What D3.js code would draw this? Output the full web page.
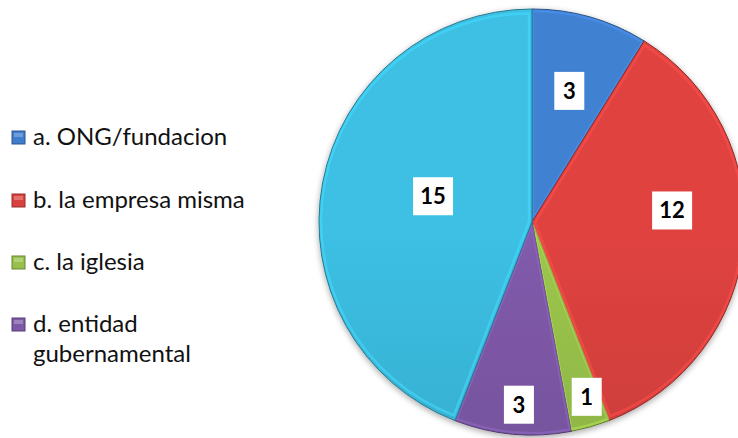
<!DOCTYPE html>
<html>
<head>
<meta charset="utf-8">
<script src="https://cdn.jsdelivr.net/npm/d3@7"></script>
<style>
  body { margin: 0; background: #fff; }
  svg { display: block; font-family: Lato, "Open Sans", sans-serif; }
</style>
</head>
<body>
<div id="chart"></div>
<script>
// data
const categories = ["a. ONG/fundacion", "b. la empresa misma", "c. la iglesia", "d. entidad gubernamental", "e. otro"];
const values = [3, 12, 1, 3, 15];
const legendLines = [["a. ONG/fundacion"], ["b. la empresa misma"], ["c. la iglesia"], ["d. entidad", "gubernamental"]];
const colors = ["#3f7ccb", "#d8413e", "#97c04a", "#7c58a6", "#3ab9dc"];

// layout
const width = 738, height = 438;
const cx = 532, cy = 222, R = 213;
// label distance (fraction of radius) and angle nudge in degrees, excel "best fit" look
const labelR = [0.64, 0.66, 0.86, 0.86, 0.48];
const labelNudge = [0, -10, -1.5, -1.2, 4];

const svg = d3.select("#chart").append("svg")
    .attr("width", width)
    .attr("height", height);

const defs = svg.append("defs");

colors.forEach(function(c, i) {
    let g = defs.append("linearGradient")
        .attr("id", "grad" + i)
        .attr("gradientUnits", "userSpaceOnUse")
        .attr("x1", 0).attr("y1", cy - R)
        .attr("x2", 0).attr("y2", cy + R);
    g.append("stop").attr("offset", "0%").attr("stop-color", d3.color(c).brighter(0.1));
    g.append("stop").attr("offset", "100%").attr("stop-color", d3.color(c).darker(0.4));
});

let shadow = defs.append("filter").attr("id", "shadow")
    .attr("x", "-10%").attr("y", "-10%").attr("width", "120%").attr("height", "120%");
shadow.append("feGaussianBlur").attr("in", "SourceAlpha").attr("stdDeviation", 3);
shadow.append("feOffset").attr("dx", 0).attr("dy", 2).attr("result", "b");
shadow.append("feComponentTransfer").append("feFuncA").attr("type", "linear").attr("slope", 0.35);
let merge = shadow.append("feMerge");
merge.append("feMergeNode");
merge.append("feMergeNode").attr("in", "SourceGraphic");

const pie = d3.pie().sort(null).value(d => d);
const arcs = pie(values);

const arc = d3.arc().innerRadius(0).outerRadius(R);
const bevelArc = d3.arc().innerRadius(0).outerRadius(R - 5);

const g = svg.append("g")
    .attr("transform", "translate(" + cx + "," + cy + ")");

const slices = g.append("g").attr("filter", "url(#shadow)")
    .selectAll("g")
    .data(arcs)
    .enter().append("g");

slices.append("path")
    .attr("d", arc)
    .attr("fill", (d, i) => "url(#grad" + i + ")")
    .attr("stroke", (d, i) => d3.color(colors[i]).darker(1.2))
    .attr("stroke-width", 1);

// bevel highlight
slices.append("path")
    .attr("d", bevelArc)
    .attr("fill", "none")
    .attr("stroke", (d, i) => d3.color(colors[i]).brighter(0.5))
    .attr("stroke-opacity", 0.55)
    .attr("stroke-width", 2.5)
    .attr("transform", function(d) {
        let a = (d.startAngle + d.endAngle) / 2;
        return "translate(" + (Math.sin(a) * 3) + "," + (-Math.cos(a) * 3) + ")";
    });

// labels
const labels = g.selectAll("g.lbl")
    .data(arcs)
    .enter().append("g")
    .attr("class", "lbl")
    .attr("transform", function(d, i) {
        let a = (d.startAngle + d.endAngle) / 2 + labelNudge[i] * Math.PI / 180;
        let r = R * labelR[i];
        return "translate(" + (Math.sin(a) * r) + "," + (-Math.cos(a) * r) + ")";
    });

labels.append("rect")
    .attr("x", d => String(d.value).length > 1 ? -20 : -15)
    .attr("y", -19)
    .attr("width", d => String(d.value).length > 1 ? 40 : 30)
    .attr("height", 38)
    .attr("fill", "#fff");

labels.append("text")
    .attr("text-anchor", "middle")
    .attr("dy", "0.36em")
    .attr("font-size", 22)
    .attr("font-weight", "bold")
    .attr("fill", "#000")
    .text(d => d.value);

// legend
const legendY = [137, 200, 262, 324];
const legend = svg.append("g")
    .selectAll("g")
    .data(legendLines)
    .enter().append("g")
    .attr("transform", (d, i) => "translate(12," + legendY[i] + ")");

legend.append("rect")
    .attr("x", 0).attr("y", -6)
    .attr("width", 13).attr("height", 13)
    .attr("fill", (d, i) => colors[i])
    .attr("stroke", (d, i) => d3.color(colors[i]).darker(1))
    .attr("stroke-width", 1);

legend.append("rect")
    .attr("x", 2).attr("y", -4)
    .attr("width", 9).attr("height", 4)
    .attr("fill", "#fff")
    .attr("opacity", 0.25);

legend.append("text")
    .attr("x", 21)
    .attr("font-size", 24)
    .attr("fill", "#111")
    .selectAll("tspan")
    .data(d => d)
    .enter().append("tspan")
    .attr("x", 21)
    .attr("dy", (d, j) => j === 0 ? "0.35em" : 30)
    .text(d => d);
</script>
</body>
</html>
